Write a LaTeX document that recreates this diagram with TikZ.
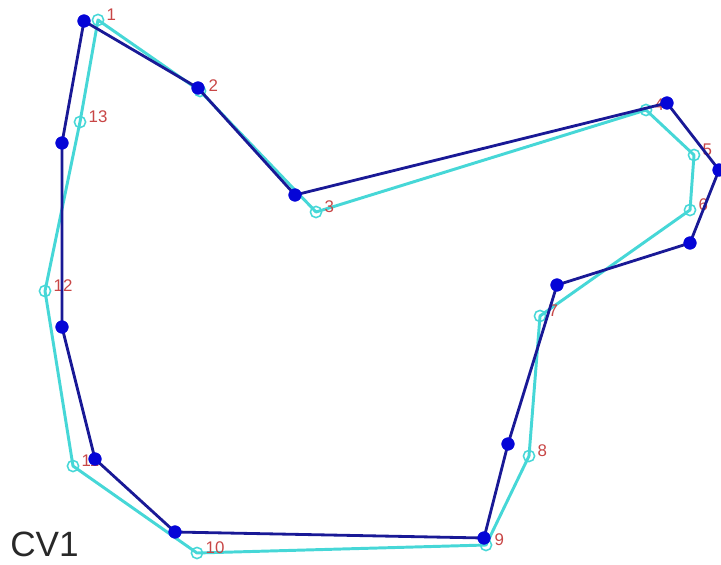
\documentclass[tikz,border=0pt]{standalone}
\usepackage{fontspec}
\setmainfont{Liberation Sans}
\usepackage{tikz}

\definecolor{contcyan}{RGB}{70,215,215}
\definecolor{contblue}{RGB}{25,25,150}
\definecolor{dotblue}{RGB}{5,5,215}
\definecolor{lblred}{RGB}{200,70,70}

\tikzset{
  cline/.style={contcyan, line width=2.1pt, line join=round},
  bline/.style={contblue, line width=2pt, line join=round},
  cdot/.style={contcyan, line width=1.1pt},
  bdot/.style={fill=dotblue, draw=dotblue},
  lbl/.style={anchor=west, inner sep=0pt, xshift=6pt, yshift=3.5pt, text=lblred, font=\fontsize{12}{14}\selectfont}
}

\begin{document}
\begin{tikzpicture}[x=0.025cm,y=-0.025cm]
        \useasboundingbox (0,0) rectangle (721,564);
        % tracked contour
        \coordinate (C1) at (98,20);
        \coordinate (C2) at (200,91);
        \coordinate (C3) at (316,212);
        \coordinate (C4) at (646,110);
        \coordinate (C5) at (694,155);
        \coordinate (C6) at (690,210);
        \coordinate (C7) at (540,316);
        \coordinate (C8) at (529,456);
        \coordinate (C9) at (486,545);
        \coordinate (C10) at (197,553);
        \coordinate (C11) at (73,466);
        \coordinate (C12) at (45,291);
        \coordinate (C13) at (80,122);
        \draw[cline] (C1)--(C2)--(C3)--(C4)--(C5)--(C6)--(C7)--(C8)--(C9)--(C10)--(C11)--(C12)--(C13)--cycle;
        \foreach \i in {1,...,13} {
            \draw[cdot] (C\i) circle (4pt);
            \node[lbl] (L\i) at (C\i) {\i};
        }

        % reference contour
        \coordinate (D1) at (84,21);
        \coordinate (D2) at (198,88);
        \coordinate (D3) at (295,195);
        \coordinate (D4) at (667,103);
        \coordinate (D5) at (719,170);
        \coordinate (D6) at (690,243);
        \coordinate (D7) at (557,285);
        \coordinate (D8) at (508,444);
        \coordinate (D9) at (484,538);
        \coordinate (D10) at (175,532);
        \coordinate (D11) at (95,459);
        \coordinate (D12) at (62,327);
        \coordinate (D13) at (62,143);
        \draw[bline] (D1)--(D2)--(D3)--(D4)--(D5)--(D6)--(D7)--(D8)--(D9)--(D10)--(D11)--(D12)--(D13)--cycle;
        \foreach \i in {1,...,13} \fill[bdot] (D\i) circle (4.5pt);

        \node[anchor=base west, inner sep=0pt, text={rgb,255:red,40;green,40;blue,40}, font=\fontsize{25}{30}\selectfont] (cv) at (10,556) {CV1};
    \end{tikzpicture}
\end{document}
